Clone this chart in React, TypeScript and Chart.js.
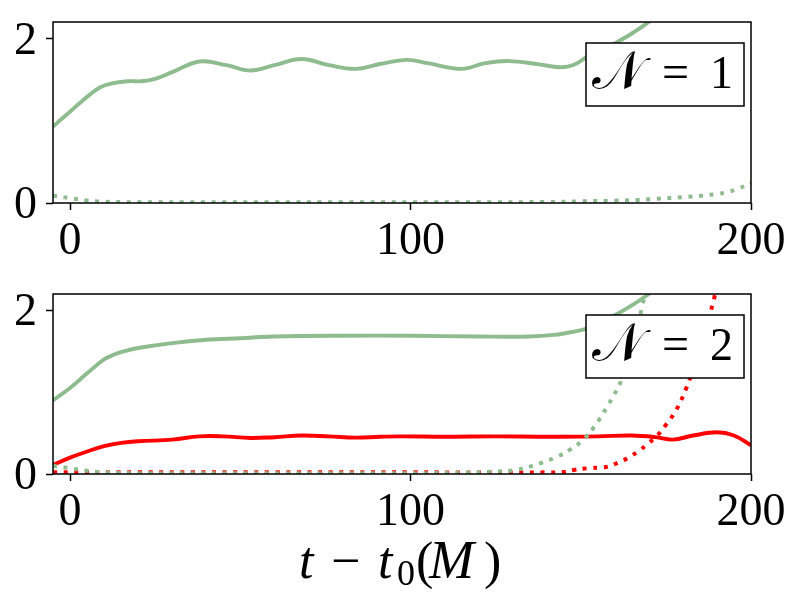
import React, { useEffect, useRef } from 'react';
import { Chart, registerables } from 'chart.js';

Chart.register(...registerables);

// ---------- data ----------
const X_TICKS = [0, 100, 200];
const Y_TICKS = [0, 2];
const X_MIN = -5;
const X_MAX = 200;
const Y_MIN = 0;
const Y_MAX = 2.2;
const PANEL_LABELS = ['1', '2'];
const X_TITLE_PARTS = ['t', '\u2212', 't', '0', '(', 'M', ')'];

// Panel 1 (N = 1)
const p1GreenSolidT = [-5, 0, 5, 9, 13, 17, 21, 25, 30, 38, 46, 53, 60, 68, 76, 84, 91, 99, 105, 115, 122, 129, 137, 144, 148, 152, 156, 160, 165, 170, 175, 180];
const p1GreenSolidV = [0.93, 1.11, 1.29, 1.41, 1.46, 1.48, 1.48, 1.51, 1.59, 1.72, 1.675, 1.61, 1.675, 1.75, 1.675, 1.63, 1.69, 1.74, 1.70, 1.63, 1.70, 1.725, 1.69, 1.65, 1.68, 1.78, 1.86, 1.94, 2.06, 2.2, 2.35, 2.5];
const p1GreenDotT = [-5, 0, 5, 10, 20, 40, 60, 80, 100, 120, 140, 150, 160, 166, 172, 180, 186, 190, 193, 196, 200];
const p1GreenDotV = [0.09, 0.06, 0.03, 0.015, 0.01, 0.01, 0.01, 0.01, 0.01, 0.01, 0.012, 0.02, 0.028, 0.035, 0.05, 0.07, 0.09, 0.11, 0.13, 0.17, 0.24];

// Panel 2 (N = 2)
const p2GreenSolidT = [-5, 0, 5, 10, 13, 16, 20, 30, 40, 50, 60, 80, 100, 120, 135, 142, 148, 152, 156, 160, 165, 170, 175];
const p2GreenSolidV = [0.90, 1.05, 1.23, 1.40, 1.46, 1.50, 1.54, 1.60, 1.64, 1.66, 1.68, 1.69, 1.69, 1.68, 1.68, 1.70, 1.74, 1.78, 1.85, 1.94, 2.06, 2.2, 2.36];
const p2RedSolidT = [-5, 0, 5, 10, 15, 20, 30, 38, 45, 53, 60, 68, 76, 84, 91, 97, 110, 125, 140, 155, 165, 172, 177, 183, 190, 195, 200];
const p2RedSolidV = [0.11, 0.20, 0.275, 0.34, 0.38, 0.40, 0.42, 0.46, 0.46, 0.44, 0.45, 0.47, 0.46, 0.445, 0.455, 0.46, 0.455, 0.46, 0.455, 0.46, 0.47, 0.45, 0.42, 0.47, 0.51, 0.47, 0.35];
const p2GreenDotT = [-5, 0, 5, 10, 20, 40, 60, 80, 100, 115, 125, 131, 138, 143, 147, 151, 154, 158, 162, 165, 168, 170];
const p2GreenDotV = [0.10, 0.07, 0.04, 0.02, 0.01, 0.01, 0.01, 0.01, 0.01, 0.015, 0.03, 0.05, 0.13, 0.21, 0.30, 0.43, 0.58, 0.84, 1.15, 1.5, 2.04, 2.4];
const p2RedDotT = [-5, 20, 60, 100, 140, 145, 148, 152, 156, 158, 161, 164, 167, 170, 172, 175, 178, 181, 184, 187, 189, 191];
const p2RedDotV = [0.02, 0.02, 0.02, 0.02, 0.02, 0.025, 0.05, 0.07, 0.08, 0.09, 0.14, 0.2, 0.28, 0.38, 0.45, 0.6, 0.78, 1.05, 1.4, 1.8, 2.12, 2.45];

// ---------- styles ----------
const GREEN = '#8fbc8f';
const RED = '#ff0000';
const FONT = '"Liberation Serif", "DejaVu Serif", serif';
const TICK_SIZE = 46;

const zip = (t: number[], v: number[]) => t.map((x, i) => ({ x, y: v[i] }));

const solid = (data: { x: number; y: number }[], color: string) => ({
  data,
  borderColor: color,
  borderWidth: 3.9,
  pointRadius: 0,
  fill: false,
  tension: 0.4,
});
const dotted = (data: { x: number; y: number }[], color: string) => ({
  data,
  borderColor: color,
  borderWidth: 4,
  borderDash: [4, 6.6],
  borderCapStyle: 'butt' as const,
  pointRadius: 0,
  fill: false,
  tension: 0.4,
});

const framePlugin = {
  id: 'panelDecor',
  afterDatasetsDraw(chart: any, _args: any, opts: any) {
    const { ctx, chartArea } = chart;
    const { left, right, top, bottom } = chartArea;
    ctx.save();
    ctx.strokeStyle = '#000';
    ctx.lineWidth = 1.5;
    ctx.strokeRect(left, top, right - left, bottom - top);
    // legend box
    const bw = 158;
    const bh = 63;
    const bx = right - 7 - bw;
    const by = top + 21;
    ctx.fillStyle = '#fff';
    ctx.fillRect(bx, by, bw, bh);
    ctx.strokeRect(bx, by, bw, bh);
    ctx.fillStyle = '#000';
    ctx.textBaseline = 'alphabetic';
    ctx.textAlign = 'left';
    ctx.font = `54px ${FONT}`;
    ctx.fillText('\u{1D4A9}', bx + 6, by + 46);
    ctx.font = `48px ${FONT}`;
    ctx.fillText('=', bx + 76, by + 45);
    ctx.font = `46px ${FONT}`;
    ctx.textAlign = 'right';
    ctx.fillText(opts.label, bx + bw - 11, by + 45);
    // x title
    if (opts.title) {
      const parts = X_TITLE_PARTS;
      const fonts = [
        `italic 52px ${FONT}`,
        `52px ${FONT}`,
        `italic 52px ${FONT}`,
        `36px ${FONT}`,
        `52px ${FONT}`,
        `italic 54px ${FONT}`,
        `52px ${FONT}`,
      ];
      const xs = [-103, -71, -24, -5, 14, 27, 82];
      const offs = [0, 0, 0, 7, 0, 0, 0];
      const cx = (left + right) / 2;
      ctx.textAlign = 'left';
      parts.forEach((p, i) => {
        ctx.font = fonts[i];
        ctx.fillText(p, cx + xs[i], opts.titleBaseline + offs[i]);
      });
    }
    ctx.restore();
  },
};

function makeOptions(padTop: number, xAxisHeight: number, label: string, title: boolean, titleBaseline: number) {
  const tickFont = { family: FONT, size: TICK_SIZE, lineHeight: 1 };
  const grid = {
    drawOnChartArea: false,
    drawTicks: true,
    tickLength: 7,
    tickColor: '#000',
    tickWidth: 1.5,
  };
  return {
    responsive: false,
    animation: false as const,
    events: [] as any[],
    layout: { padding: { top: padTop, right: 51, left: 0, bottom: 0 } },
    plugins: {
      legend: { display: false },
      tooltip: { enabled: false },
      panelDecor: { label, title, titleBaseline },
    },
    scales: {
      x: {
        type: 'linear' as const,
        min: X_MIN,
        max: X_MAX,
        afterBuildTicks: (s: any) => {
          s.ticks = X_TICKS.map((v) => ({ value: v }));
        },
        afterFit: (s: any) => {
          s.height = xAxisHeight;
          s.paddingLeft = 0;
          s.paddingRight = 0;
          s.paddingTop = 0;
          s.paddingBottom = 0;
        },
        border: { display: false },
        grid,
        ticks: {
          color: '#000',
          font: tickFont,
          padding: 9,
          maxRotation: 0,
          autoSkip: false,
          callback: (v: any) => String(v),
        },
      },
      y: {
        type: 'linear' as const,
        min: Y_MIN,
        max: Y_MAX,
        afterBuildTicks: (s: any) => {
          s.ticks = Y_TICKS.map((v) => ({ value: v }));
        },
        afterFit: (s: any) => {
          s.width = 53;
          s.paddingLeft = 0;
          s.paddingRight = 0;
          s.paddingTop = 0;
          s.paddingBottom = 0;
        },
        border: { display: false },
        grid,
        ticks: {
          color: '#000',
          font: tickFont,
          padding: 9,
          labelOffset: 3,
          autoSkip: false,
          callback: (v: any) => String(v),
        },
      },
    },
  };
}

function Panel(props: { top: number; height: number; padTop: number; xAxisHeight: number; datasets: any[]; label: string; title: boolean; titleBaseline: number }) {
  const ref = useRef<HTMLCanvasElement | null>(null);
  useEffect(() => {
    if (!ref.current) return;
    const chart = new Chart(ref.current, {
      type: 'line',
      data: { datasets: props.datasets },
      options: makeOptions(props.padTop, props.xAxisHeight, props.label, props.title, props.titleBaseline) as any,
      plugins: [framePlugin],
    });
    return () => chart.destroy();
  }, []);
  return (
    <canvas
      ref={ref}
      width={802}
      height={props.height}
      style={{ position: 'absolute', left: 0, top: props.top, width: 802, height: props.height }}
    />
  );
}

export default function App() {
  const ds1 = [
    dotted(zip(p1GreenDotT, p1GreenDotV), GREEN),
    solid(zip(p1GreenSolidT, p1GreenSolidV), GREEN),
  ];
  const ds2 = [
    dotted(zip(p2GreenDotT, p2GreenDotV), GREEN),
    dotted(zip(p2RedDotT, p2RedDotV), RED),
    solid(zip(p2GreenSolidT, p2GreenSolidV), GREEN),
    solid(zip(p2RedSolidT, p2RedSolidV), RED),
  ];
  return (
    <div style={{ position: 'fixed', left: 0, top: 0, width: 802, height: 612, background: '#fff', overflow: 'hidden' }}>
      <Panel top={0} height={270} padTop={22} xAxisHeight={67} datasets={ds1} label={PANEL_LABELS[0]} title={false} titleBaseline={0} />
      <Panel top={270} height={342} padTop={24} xAxisHeight={138} datasets={ds2} label={PANEL_LABELS[1]} title={true} titleBaseline={308} />
    </div>
  );
}
